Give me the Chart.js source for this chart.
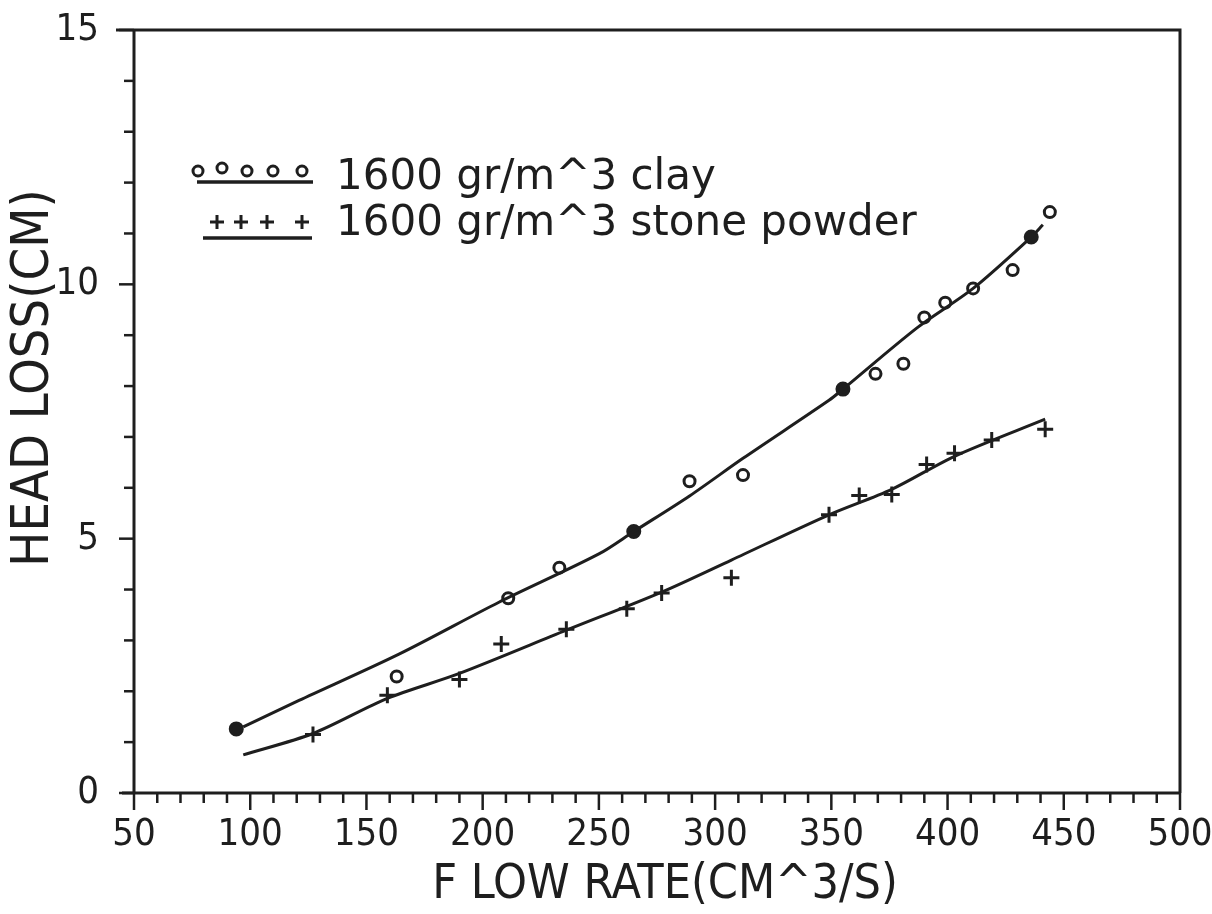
<!DOCTYPE html>
<html>
<head>
<meta charset="utf-8">
<script src="https://cdn.jsdelivr.net/npm/chart.js@4/dist/chart.umd.min.js"></script>
<style>
  html, body { margin: 0; padding: 0; background: #fff; }
  #wrap { width: 1212px; height: 914px; position: relative; }
</style>
</head>
<body>
<div id="wrap"><canvas id="c"></canvas></div>
<script>
// ---- data ----
const clayX = [94, 163, 211, 233, 265, 289, 312, 355, 369, 381, 390, 399, 411, 428, 436, 444];
const clayY = [1.26, 2.29, 3.83, 4.43, 5.14, 6.13, 6.25, 7.94, 8.24, 8.44, 9.35, 9.64, 9.92, 10.28, 10.93, 11.42];
const clayFilled = [true, false, false, false, true, false, false, true, false, false, false, false, false, false, true, false];

const stoneX = [127, 159, 190, 208, 236, 262, 277, 307, 349, 362, 376, 391, 403, 419, 442];
const stoneY = [1.15, 1.92, 2.23, 2.93, 3.22, 3.62, 3.93, 4.23, 5.47, 5.85, 5.87, 6.46, 6.68, 6.94, 7.15];

const clayFitX = [97, 121, 164, 207, 250, 265, 289, 312, 349, 355, 387, 411, 436, 441];
const clayFitY = [1.3, 1.82, 2.73, 3.75, 4.7, 5.14, 5.84, 6.58, 7.72, 7.94, 9.15, 9.92, 10.93, 11.17];

const stoneFitX = [97, 127, 159, 190, 236, 277, 307, 349, 376, 403, 442];
const stoneFitY = [0.75, 1.17, 1.86, 2.35, 3.2, 3.95, 4.58, 5.47, 5.97, 6.62, 7.35];

const xMin = 50, xMax = 500, xMinor = 10, xMajor = 50;
const yMin = 0, yMax = 15, yMinor = 1, yMajor = 5;

const legendLabels = ['1600 gr/m^3 clay', '1600 gr/m^3 stone powder'];
const xTitle = 'F LOW RATE(CM^3/S)';
const yTitle = 'HEAD LOSS(CM)';

const INK = '#1e1e1e';
const FONT = "'DejaVu Sans Condensed', 'DejaVu Sans', sans-serif";
const FONT_WIDE = "'DejaVu Sans', sans-serif";

const toPts = (xs, ys) => xs.map((x, i) => ({ x: x, y: ys[i] }));

const framePlugin = {
  id: 'frameTicks',
  afterDraw(chart) {
    const { ctx, chartArea: a } = chart;
    const xs = chart.scales.x, ys = chart.scales.y;
    ctx.save();
    ctx.strokeStyle = INK;
    ctx.fillStyle = INK;
    ctx.lineCap = 'butt';
    ctx.lineWidth = 3;
    // frame
    ctx.beginPath();
    ctx.moveTo(a.left - 18, a.top);
    ctx.lineTo(a.right, a.top);
    ctx.lineTo(a.right, a.bottom);
    ctx.moveTo(a.left - 12, a.bottom);
    ctx.lineTo(a.right, a.bottom);
    ctx.moveTo(a.left, a.top);
    ctx.lineTo(a.left, a.bottom);
    ctx.stroke();
    // x ticks (outward, below)
    ctx.lineWidth = 2.5;
    xs.ticks.forEach(t => {
      const px = xs.getPixelForValue(t.value);
      const len = (Math.round(t.value) % xMajor === 0) ? 17 : 10;
      ctx.beginPath();
      ctx.moveTo(px, a.bottom);
      ctx.lineTo(px, a.bottom + len);
      ctx.stroke();
    });
    // y ticks (outward, left)
    ys.ticks.forEach(t => {
      const py = ys.getPixelForValue(t.value);
      const len = (Math.round(t.value) % yMajor === 0) ? 15 : 10;
      ctx.beginPath();
      ctx.moveTo(a.left - len, py);
      ctx.lineTo(a.left, py);
      ctx.stroke();
    });
    // axis titles
    ctx.textAlign = 'center';
    ctx.textBaseline = 'middle';
    ctx.font = '48px ' + FONT;
    ctx.fillText(xTitle, 665, 886);
    ctx.save();
    ctx.translate(34, 378);
    ctx.rotate(-Math.PI / 2);
    ctx.font = '52px ' + FONT;
    ctx.fillText(yTitle, 0, 0);
    ctx.restore();
    ctx.restore();
  }
};

const legendPlugin = {
  id: 'handLegend',
  afterDraw(chart) {
    const ctx = chart.ctx;
    ctx.save();
    ctx.strokeStyle = INK;
    ctx.fillStyle = INK;
    // clay row: circles + underline
    ctx.lineWidth = 3;
    [[198, 171], [222, 168], [247, 171], [273, 171], [302, 171]].forEach(([cx, cy]) => {
      ctx.beginPath(); ctx.arc(cx, cy, 5, 0, Math.PI * 2); ctx.stroke();
    });
    ctx.lineWidth = 3.5;
    ctx.beginPath(); ctx.moveTo(197, 182); ctx.lineTo(313, 182); ctx.stroke();
    // stone row: plus signs + underline
    ctx.lineWidth = 3;
    [[217, 222], [241, 222], [267, 222], [302, 222]].forEach(([cx, cy]) => {
      ctx.beginPath();
      ctx.moveTo(cx - 7, cy); ctx.lineTo(cx + 7, cy);
      ctx.moveTo(cx, cy - 7); ctx.lineTo(cx, cy + 7);
      ctx.stroke();
    });
    ctx.lineWidth = 3.5;
    ctx.beginPath(); ctx.moveTo(203, 238); ctx.lineTo(312, 238); ctx.stroke();
    // texts
    ctx.font = '42px ' + FONT_WIDE;
    ctx.textAlign = 'left';
    ctx.textBaseline = 'alphabetic';
    ctx.fillText(legendLabels[0], 336, 189);
    ctx.fillText(legendLabels[1], 336, 235);
    ctx.restore();
  }
};

new Chart(document.getElementById('c'), {
  type: 'scatter',
  data: {
    datasets: [
      {
        label: 'clay fit',
        data: toPts(clayFitX, clayFitY),
        showLine: true,
        borderColor: INK,
        borderWidth: 3,
        pointRadius: 0,
        tension: 0.3
      },
      {
        label: legendLabels[0],
        data: toPts(clayX, clayY),
        showLine: false,
        pointStyle: 'circle',
        pointRadius: clayFilled.map(f => f ? 6 : 5.5),
        pointBorderWidth: 3,
        pointBorderColor: INK,
        pointBackgroundColor: clayFilled.map(f => f ? INK : '#ffffff')
      },
      {
        label: 'stone fit',
        data: toPts(stoneFitX, stoneFitY),
        showLine: true,
        borderColor: INK,
        borderWidth: 3,
        pointRadius: 0,
        tension: 0.3
      },
      {
        label: legendLabels[1],
        data: toPts(stoneX, stoneY),
        showLine: false,
        pointStyle: 'cross',
        pointRadius: 8,
        pointBorderWidth: 3,
        pointBorderColor: INK
      }
    ]
  },
  options: {
    responsive: true,
    maintainAspectRatio: false,
    animation: false,
    devicePixelRatio: 1,
    layout: { padding: { top: 30, right: 32, left: 0, bottom: 0 } },
    plugins: { legend: { display: false }, tooltip: { enabled: false } },
    scales: {
      x: {
        type: 'linear',
        min: xMin, max: xMax,
        afterFit(s) { s.height = 121; s.paddingLeft = 0; s.paddingRight = 0; },
        grid: { display: false },
        border: { display: false },
        ticks: {
          stepSize: xMinor,
          autoSkip: false,
          maxRotation: 0,
          padding: 11,
          color: INK,
          font: { family: FONT, size: 38 },
          callback: v => (Math.round(v) % xMajor === 0 ? String(v) : '')
        },
        title: { display: false }
      },
      y: {
        type: 'linear',
        min: yMin, max: yMax,
        afterFit(s) { s.width = 134; s.paddingTop = 0; s.paddingBottom = 0; },
        grid: { display: false },
        border: { display: false },
        ticks: {
          stepSize: yMinor,
          autoSkip: false,
          padding: 27,
          color: INK,
          font: { family: FONT, size: 38 },
          callback: v => (Math.round(v) % yMajor === 0 ? String(v) : '')
        },
        title: { display: false }
      }
    }
  },
  plugins: [framePlugin, legendPlugin]
});
</script>
</body>
</html>
